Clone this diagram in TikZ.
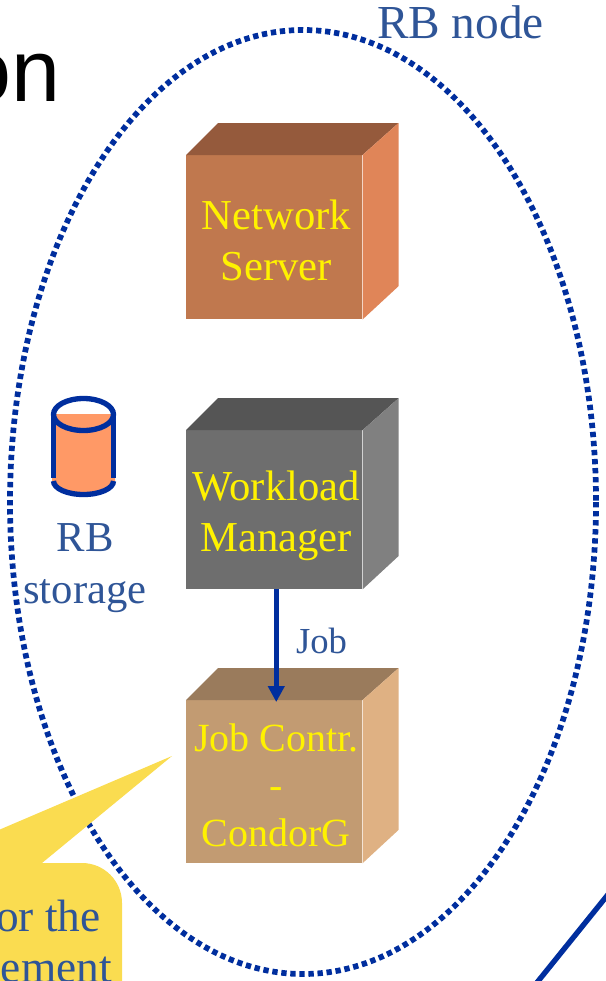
\documentclass[tikz,border=0pt]{standalone}
\usepackage{fontspec}
\usepackage{xcolor}
\usepackage{tikz}
\usetikzlibrary{positioning,arrows.meta}
\setmainfont{Liberation Serif}
\newfontfamily\titlefont{Liberation Sans}

\definecolor{linkblue}{HTML}{002E9E}
\definecolor{labelblue}{HTML}{2F5597}
\definecolor{noteyellow}{HTML}{FADC50}
\definecolor{drumfill}{HTML}{FF9966}
\definecolor{serverfront}{HTML}{C0784E}
\definecolor{servertop}{HTML}{955A3C}
\definecolor{serverside}{HTML}{E08558}
\definecolor{managerfront}{HTML}{6E6E6E}
\definecolor{managertop}{HTML}{555555}
\definecolor{managerside}{HTML}{808080}
\definecolor{controlfront}{HTML}{C29B72}
\definecolor{controltop}{HTML}{9A7B5C}
\definecolor{controlside}{HTML}{DFB183}

\begin{document}
\begin{tikzpicture}[x=0.75pt,y=-0.75pt]

    \edef\sizefront{132pt}
    \tikzstyle{cubeface}=[minimum width=\sizefront,inner sep=0pt]
    \tikzstyle{cubetext}=[inner sep=0pt,align=center,text=yellow,font=\fontsize{32}{38.25}\selectfont]
    \tikzstyle{bluelabel}=[text=labelblue,inner sep=0pt,align=center,font=\fontsize{32}{39}\selectfont]
    \tikzstyle{notetext}=[text=labelblue,inner sep=0pt,anchor=base east,font=\fontsize{34}{38}\selectfont]

    % draws the roof and the right side of a cube behind its front node
    \newcommand{\cubesides}[3]{
        \fill[#2] (#1.north west) -- ++(24pt,24pt) -- ([xshift=27pt,yshift=24pt]#1.north east) -- (#1.north east) -- cycle;
        \fill[#3] (#1.north east) -- ++(27pt,24pt) -- ([xshift=27pt,yshift=25pt]#1.south east) -- (#1.south east) -- cycle;
    }

    \useasboundingbox (0,0) rectangle (606,981);
    \clip (0,0) rectangle (606,981);

    \node [font=\titlefont\fontsize{66}{66}\selectfont,anchor=base east,inner sep=0pt] (title) at (61,102) {on};

    \draw[linkblue,line width=4.3pt,dash pattern=on 4pt off 2.8pt] (303,502) ellipse [x radius=293,y radius=472];

    % the three cubes
    \node [cubeface,minimum height=123pt,fill=serverfront,anchor=north west] (server) at (186,155) {};
    \node [cubeface,minimum height=119pt,fill=managerfront,below=83pt of server] (manager) {};
    \node [cubeface,minimum height=122pt,fill=controlfront,below=83pt of manager] (control) {};
    \cubesides{server}{servertop}{serverside}
    \cubesides{manager}{managertop}{managerside}
    \cubesides{control}{controltop}{controlside}
    \node [cubetext] (servertext) at ([xshift=1.5pt,yshift=-2.5pt]server) {Network\\Server};
    \node [cubetext] (managertext) at ([xshift=1.5pt,yshift=-4.5pt]manager) {Workload\\Manager};
    \node [cubetext,font=\fontsize{30}{35.6}\selectfont] (controltext) at ([xshift=1.5pt,yshift=-2.5pt]control) {Job Contr.\\-\\CondorG};

    \draw[linkblue,line width=3.75pt,-{Triangle[length=12pt,width=12pt]}] ([xshift=1.5pt]manager.south) -- ([xshift=1.5pt,yshift=-1.5pt]control.north);
    \node [bluelabel,font=\fontsize{27.5}{30}\selectfont] (job) at (321.5,641) {Job};

    \node [bluelabel,anchor=base,font=\fontsize{35.5}{40}\selectfont] (rbnode) at (460.5,39) {RB node};

    % storage drum
    \fill[drumfill] (52,414) -- (52,481) -- (54,481) arc [start angle=180,end angle=0,x radius=30,y radius=13.5] -- (115,481) -- (115,414) -- cycle;
    \draw[linkblue,line width=4pt] (83.5,414.5) ellipse [x radius=30,y radius=16];
    \draw[linkblue,line width=4pt] (53.5,414.5) -- (53.5,478) (113.5,414.5) -- (113.5,478);
    \draw[linkblue,line width=4pt] (53.5,481) arc [start angle=180,end angle=0,x radius=30,y radius=13.5];
    \node [bluelabel,anchor=north] (storage) at (85,523) {RB\\storage};

    % speech bubble, cut by the page
    \fill[noteyellow] (-20,838) -- (172,756) -- (42,863) -- (82,863) arc [start angle=-90,end angle=0,radius=40] -- (122,1000) -- (-20,1000) -- cycle;
    \node [notetext] (notefirst) at (101,931) {or the};
    \node [notetext] (notesecond) at (112,982) {ement};

    % line coming in at the corner
    \coordinate (linetop) at (610,892);
    \coordinate (linebottom) at (535,985);
    \draw[linkblue,line width=4pt] (linetop) -- (linebottom);

\end{tikzpicture}
\end{document}
